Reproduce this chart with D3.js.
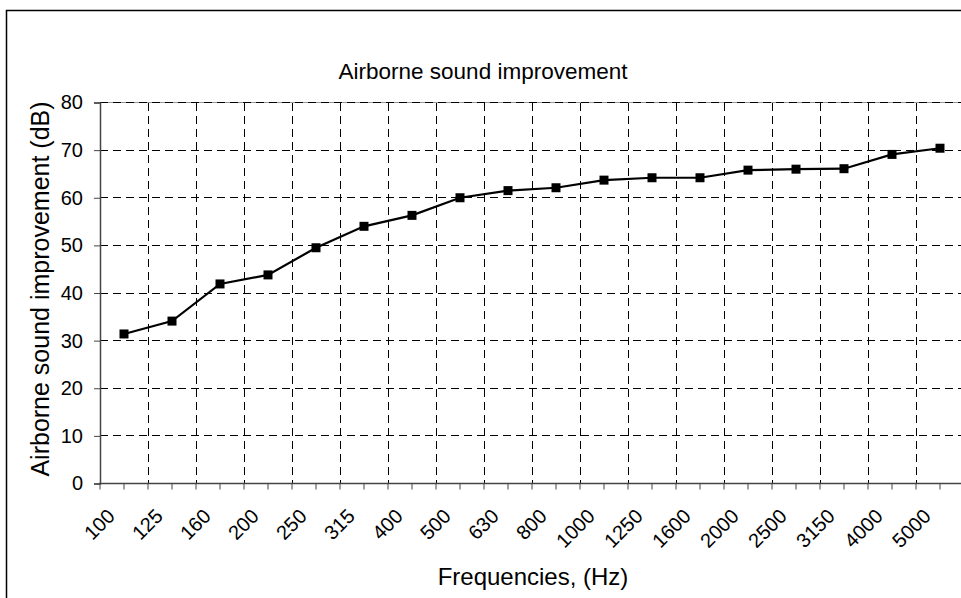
<!DOCTYPE html>
<html>
<head>
<meta charset="utf-8">
<script src="https://cdn.jsdelivr.net/npm/d3@7"></script>
<style>
  body { margin: 0; background: #fff; }
  svg { display: block; font-family: "Liberation Sans", Arial, sans-serif; }
</style>
</head>
<body>
<svg id="chart" width="961" height="598"></svg>
<script>
// frequencies (Hz) and measured improvement (dB)
const frequencies = ["100", "125", "160", "200", "250", "315", "400", "500", "630",
  "800", "1000", "1250", "1600", "2000", "2500", "3150", "4000", "5000"];
const improvement = [31.4, 34.1, 41.9, 43.8, 49.5, 54.0, 56.3, 60.0, 61.5,
  62.1, 63.7, 64.2, 64.2, 65.8, 66.0, 66.1, 69.1, 70.4];
const yTicks = [0, 10, 20, 30, 40, 50, 60, 70, 80];

const plotLeft = 100, plotTop = 102.5, plotBottom = 483.5;
const bandW = 48;

const svg = d3.select("#chart");

// outer frame (right/bottom edges fall outside the picture)
svg.append("rect")
  .attr("x", 6.5).attr("y", 10.5)
  .attr("width", 1000).attr("height", 700)
  .attr("fill", "none").attr("stroke", "#000").attr("stroke-width", 1.5);

const x = d3.scaleBand()
  .domain(frequencies)
  .range([plotLeft, plotLeft + bandW * frequencies.length])
  .padding(0);

const y = d3.scaleLinear()
  .domain([0, 80])
  .range([plotBottom, plotTop]);

const plotRight = plotLeft + bandW * frequencies.length;

// top edge of plot area
svg.append("line")
  .attr("x1", plotLeft).attr("x2", plotRight)
  .attr("y1", plotTop).attr("y2", plotTop)
  .attr("stroke", "#999").attr("stroke-width", 1);

// horizontal dashed grid
svg.append("g")
  .selectAll("line")
  .data(yTicks.filter(d => d > 0))
  .join("line")
  .attr("x1", plotLeft).attr("x2", plotRight)
  .attr("y1", d => y(d)).attr("y2", d => y(d))
  .attr("stroke", "#000").attr("stroke-width", 1)
  .attr("stroke-dasharray", "8,5")
  .attr("shape-rendering", "crispEdges");

// vertical dashed grid at band boundaries
svg.append("g")
  .selectAll("line")
  .data(frequencies.slice(1))
  .join("line")
  .attr("x1", d => x(d)).attr("x2", d => x(d))
  .attr("y1", plotTop).attr("y2", plotBottom)
  .attr("stroke", "#000").attr("stroke-width", 1)
  .attr("stroke-dasharray", "8,5")
  .attr("shape-rendering", "crispEdges");

// y axis
const yAxis = d3.axisLeft(y)
  .tickValues(yTicks)
  .tickSize(6)
  .tickPadding(11);

const gy = svg.append("g")
  .attr("transform", `translate(${plotLeft},0)`)
  .call(yAxis);
gy.select(".domain").attr("stroke", "#444").attr("stroke-width", 1.5);
gy.selectAll(".tick line").attr("stroke", "#444");
gy.selectAll(".tick text")
  .attr("font-size", 20)
  .attr("fill", "#000")
  .attr("font-family", "Liberation Sans, Arial, sans-serif");

// x axis: line plus ticks at band edges and centres
const gx = svg.append("g");
gx.append("line")
  .attr("x1", plotLeft - 1).attr("x2", plotRight)
  .attr("y1", plotBottom).attr("y2", plotBottom)
  .attr("stroke", "#444").attr("stroke-width", 1.5);

const tickPos = [];
frequencies.forEach(f => {
  tickPos.push(x(f));
  tickPos.push(x(f) + x.bandwidth() / 2);
});
gx.selectAll("line.tk")
  .data(tickPos)
  .join("line")
  .attr("class", "tk")
  .attr("x1", d => d).attr("x2", d => d)
  .attr("y1", plotBottom).attr("y2", plotBottom + 6)
  .attr("stroke", "#444").attr("stroke-width", 1);

gx.selectAll("text")
  .data(frequencies)
  .join("text")
  .attr("transform", d => `translate(${x(d) + x.bandwidth() / 2 - 8},${plotBottom + 34}) rotate(-45)`)
  .attr("text-anchor", "end")
  .attr("font-size", 20)
  .attr("fill", "#000")
  .text(d => d);

// line + square markers
const line = d3.line()
  .x((d, i) => x(frequencies[i]) + x.bandwidth() / 2)
  .y(d => y(d));

svg.append("path")
  .datum(improvement)
  .attr("d", line)
  .attr("fill", "none")
  .attr("stroke", "#000")
  .attr("stroke-width", 2.2);

svg.append("g")
  .selectAll("rect")
  .data(improvement)
  .join("rect")
  .attr("x", (d, i) => x(frequencies[i]) + x.bandwidth() / 2 - 4.5)
  .attr("y", d => y(d) - 4.5)
  .attr("width", 9).attr("height", 9)
  .attr("fill", "#000");

// titles
svg.append("text")
  .attr("x", 483).attr("y", 79)
  .attr("text-anchor", "middle")
  .attr("font-size", 22.5)
  .text("Airborne sound improvement");

svg.append("text")
  .attr("x", 533).attr("y", 585)
  .attr("text-anchor", "middle")
  .attr("font-size", 24)
  .text("Frequencies, (Hz)");

svg.append("text")
  .attr("transform", `translate(49,289) rotate(-90)`)
  .attr("text-anchor", "middle")
  .attr("font-size", 25)
  .text("Airborne sound improvement (dB)");
</script>
</body>
</html>
